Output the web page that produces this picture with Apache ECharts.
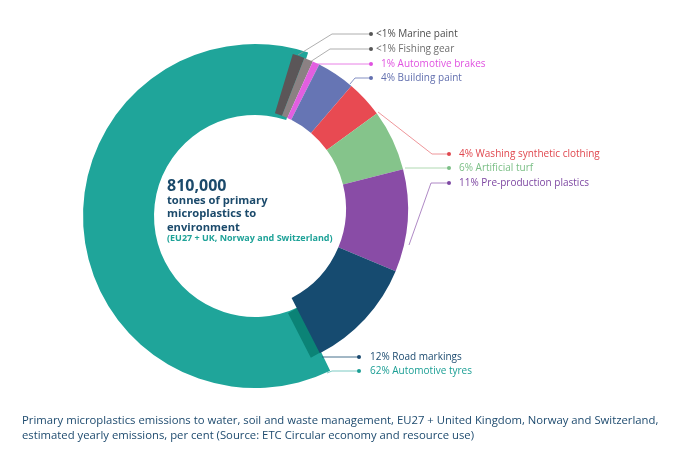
<!DOCTYPE html>
<html lang="en">
<head>
    <meta charset="utf-8" />
    <title>Primary microplastics emissions</title>
    <script type="text/javascript" src="https://cdn.jsdelivr.net/npm/echarts@6/dist/echarts.min.js"></script>
    <style type="text/css">
        html, body { margin: 0; padding: 0; background: #fff; }
    </style>
</head>
<body>
    <div id="main" style="width:680px;height:453px;"></div>

    <script type="text/javascript">
        // sources, clockwise from the top
        var sources = ['Marine paint', 'Fishing gear', 'Automotive brakes', 'Building paint',
            'Washing synthetic clothing', 'Artificial turf', 'Pre-production plastics',
            'Road markings', 'Automotive tyres'];
        // share of the ring (per cent)
        var shares = [1.2, 0.9, 0.7, 3.8, 3.7, 6.1, 10.2, 11.2, 62.2];
        // percentages as printed in the labels
        var pctLabels = ['<1%', '<1%', '1%', '4%', '4%', '6%', '11%', '12%', '62%'];
        var totalTonnes = '810,000';

        var sliceColors = ['#5b5658', '#8b8183', '#e25fe0', '#6675b4', '#e84a52', '#85c48b', '#894ca6', '#164b70', '#1fa59a'];
        var textColors = ['#4d4d4d', '#6e6e6e', '#e052e0', '#6370af', '#e0474e', '#7bbf86', '#7d47a2', '#1b4a6f', '#1a9e94'];
        var lineColors = ['#9a9a9a', '#9a9a9a', '#e25fe0', '#6675b4', '#ea7b80', '#9ccf9f', '#9a6bb6', '#164b70', '#5cbcb4'];
        var dotColors = ['#555', '#555', '#e052e0', '#6370af', '#e0474e', '#7bbf86', '#7d47a2', '#1b4a6f', '#1a9e94'];
        var textGap = [3, 3, 8, 8, 8, 8, 8, 9, 9];

        // leader line routes, ending at the dot in front of each label
        var leaderRoutes = [
            [[298, 55], [332, 34], [371, 34]],
            [[310, 62], [330, 49], [371, 49]],
            [[316, 64], [371, 64]],
            [[350, 84], [355, 78], [371, 78]],
            [[378, 112], [432, 154], [449, 154]],
            [[405, 168], [449, 168]],
            [[409, 245], [431, 183], [449, 183]],
            [[322, 357], [359, 357]],
            [[327, 373], [332, 371], [359, 371]]
        ];

        var myChart = echarts.init(document.getElementById('main'));

        // visible(i) -> colour for slice i, or null to leave it empty
        function ringData(visible, withLabels) {
            var arr = [];
            for (var i = 0; i < sources.length; i++) {
                var col = visible(i);
                var on = !!col && withLabels;
                arr.push({
                    name: sources[i],
                    value: shares[i],
                    itemStyle: { color: col || 'rgba(0,0,0,0)' },
                    label: {
                        show: on,
                        overflow: 'none',
                        formatter: '{d| }{t|' + pctLabels[i] + ' ' + sources[i] + '}',
                        rich: {
                            d: { width: 4, height: 4, borderRadius: 2, backgroundColor: dotColors[i] },
                            t: { color: textColors[i], fontSize: 10, fontFamily: 'Open Sans', padding: [0, 0, 0, textGap[i]] }
                        }
                    },
                    labelLine: { show: on, lineStyle: { color: lineColors[i], width: 0.8 } }
                });
            }
            return arr;
        }

        function placeLabel(params) {
            var route = leaderRoutes[params.dataIndex];
            var end = route[route.length - 1];
            return {
                x: end[0] - 2,
                y: end[1],
                align: 'left',
                verticalAlign: 'middle',
                labelLinePoints: route
            };
        }

        var last = sources.length - 1;
        var road = sources.indexOf('Road markings');

        var option = {
            animation: false,
            title: [{
                left: 167,
                top: 178,
                padding: 0,
                text: '{a|' + totalTonnes + '}\n{b|tonnes of primary}\n{b|microplastics to}\n{b|environment}\n{c|(EU27 + UK, Norway and Switzerland)}',
                textStyle: {
                    rich: {
                        a: { fontFamily: 'Open Sans', fontSize: 16, fontWeight: 'bold', color: '#1b4a6b', lineHeight: 16 },
                        b: { fontFamily: 'Open Sans', fontSize: 11.2, fontWeight: 'bold', color: '#1b4a6b', lineHeight: 13.4 },
                        c: { fontFamily: 'Open Sans', fontSize: 9, fontWeight: 'bold', color: '#1ea298', lineHeight: 8 }
                    }
                }
            }, {
                left: 22,
                top: 413,
                padding: 0,
                text: 'Primary microplastics emissions to water, soil and waste management, EU27 + United Kingdom, Norway and Switzerland,\nestimated yearly emissions, per cent (Source: ETC Circular economy and resource use)',
                textStyle: { fontFamily: 'Open Sans', fontSize: 11.3, fontWeight: 'normal', color: '#1d4a6e', lineHeight: 15 }
            }],
            series: [{
                // automotive tyres ring (wider)
                name: 'tyres',
                type: 'pie',
                silent: true,
                z: 1,
                center: [255, 216],
                radius: [101, 172],
                startAngle: 72,
                label: { show: true, overflow: 'none' },
                labelLine: { show: true },
                labelLayout: placeLabel,
                data: ringData(function (i) { return i === last ? sliceColors[i] : null; }, true)
            }, {
                // darker band that road markings throws on the tyres ring
                name: 'band',
                type: 'pie',
                silent: true,
                z: 2,
                center: [237, 213.5],
                radius: [112, 162],
                startAngle: 73.2,
                label: { show: false },
                labelLine: { show: false },
                data: ringData(function (i) { return i === road ? '#0b8376' : null; }, false)
            }, {
                // all other sources
                name: 'others',
                type: 'pie',
                silent: true,
                z: 3,
                center: [246, 209],
                radius: [100, 162],
                startAngle: 73.2,
                label: { show: true, overflow: 'none' },
                labelLine: { show: true },
                labelLayout: placeLabel,
                data: ringData(function (i) { return i !== last ? sliceColors[i] : null; }, true)
            }]
        };
        myChart.setOption(option, true);
    </script>
</body>
</html>
